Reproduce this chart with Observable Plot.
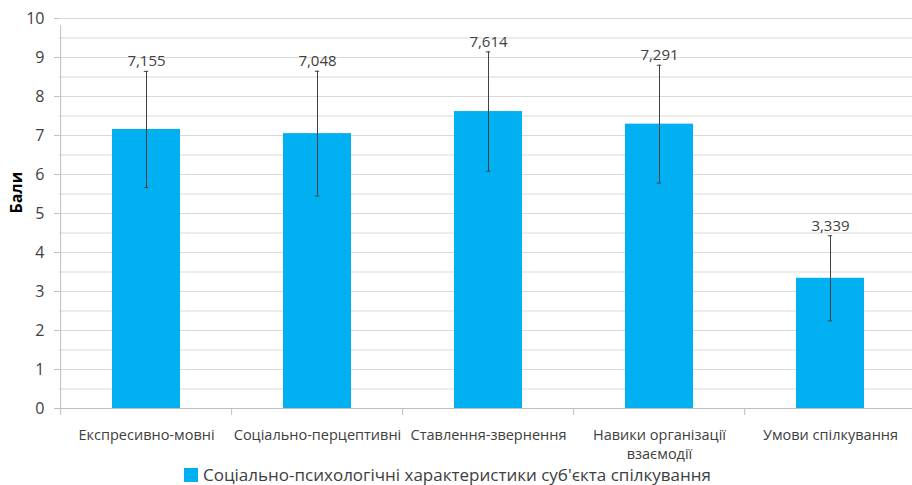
<!DOCTYPE html>
<html>
<head>
<meta charset="utf-8">
<script src="https://cdn.jsdelivr.net/npm/d3@7"></script>
<script src="https://cdn.jsdelivr.net/npm/@observablehq/plot@0.6"></script>
<style>
  html, body { margin: 0; padding: 0; background: #fff; }
  #wrap { position: relative; width: 912px; height: 485px; }
  #legend { position: absolute; left: 184px; top: 466px; display: flex; align-items: center; line-height: 17px;
    font-family: "Open Sans", sans-serif; font-size: 17px; color: #404040; white-space: nowrap; }
  #legend .sw { width: 14px; height: 14px; background: #00B0F0; margin-right: 5px; }
</style>
</head>
<body>
<div id="wrap"><div id="legend"><span class="sw"></span><span id="legtext"></span></div></div>
<script>
const categories = ["Експресивно-мовні", "Соціально-перцептивні", "Ставлення-звернення", "Навики організації\nвзаємодії", "Умови спілкування"];
const means = [7.155, 7.048, 7.614, 7.291, 3.339];
const sds = [1.49, 1.60, 1.53, 1.51, 1.09];
const meanLabels = ["7,155", "7,048", "7,614", "7,291", "3,339"];
const yTicks = [0, 1, 2, 3, 4, 5, 6, 7, 8, 9, 10];
const seriesName = "Соціально-психологічні характеристики суб'єкта спілкування";
const yLabel = "Бали";

const data = categories.map((c, i) => ({cat: c, mean: means[i], sd: sds[i], label: meanLabels[i]}));
const gridVals = d3.range(0, 10.01, 0.5);

const xRange = [58.5, 917];
const padIn = 0.6, padOut = 0.3;
const step = (xRange[1] - xRange[0]) / (categories.length - padIn + 2 * padOut);
const bw = step * (1 - padIn);
const font = '"Open Sans", sans-serif';

const plot = Plot.plot({
  width: 912,
  height: 465,
  marginTop: 18,
  marginBottom: 57,
  marginLeft: 59,
  marginRight: 0,
  style: {fontFamily: font, fontSize: "14px", color: "#404040", background: "#fff", overflow: "visible"},
  x: {domain: categories, range: xRange, paddingInner: padIn, paddingOuter: padOut},
  y: {domain: [0, 10]},
  marks: [
    Plot.ruleY(gridVals, {stroke: "#d9d9d9", strokeWidth: 1}),
    Plot.axisY({ticks: yTicks, tickSize: 5, tickPadding: 10, stroke: "#bfbfbf", fill: "#404040", fontSize: 16, label: null}),
    Plot.ruleX([categories[0]], {x: d => d, dx: -step / 2, y1: 0, y2: 10, stroke: "#bfbfbf", insetBottom: -7}),
    Plot.ruleX(categories, {x: d => d, dx: -step / 2, y1: 0, y2: 0, stroke: "#bfbfbf", insetBottom: -7}),
    Plot.ruleY([0], {stroke: "#bfbfbf"}),
    Plot.axisX({tickSize: 0, tickPadding: 18, fill: "#404040", fontSize: 14.5, lineHeight: 1.3, label: null}),
    Plot.barY(data, {x: "cat", y: "mean", fill: "#00B0F0"}),
    Plot.ruleX(data, {x: "cat", y1: d => d.mean - d.sd, y2: d => d.mean + d.sd, stroke: "#404040", strokeWidth: 1}),
    Plot.tickY(data, {x: "cat", y: d => d.mean + d.sd, stroke: "#404040", insetLeft: bw / 2 - 2.5, insetRight: bw / 2 - 2.5}),
    Plot.tickY(data, {x: "cat", y: d => d.mean - d.sd, stroke: "#404040", insetLeft: bw / 2 - 2.5, insetRight: bw / 2 - 2.5}),
    Plot.text(data, {x: "cat", y: d => d.mean + d.sd, text: "label", dy: -10, fill: "#404040", fontSize: 15}),
    Plot.text([yLabel], {text: d => d, frameAnchor: "left", dx: -43, rotate: -90, fontWeight: "bold", fontSize: 16, fill: "#000"})
  ]
});

document.getElementById("wrap").prepend(plot);
document.getElementById("legtext").textContent = seriesName;
</script>
</body>
</html>
